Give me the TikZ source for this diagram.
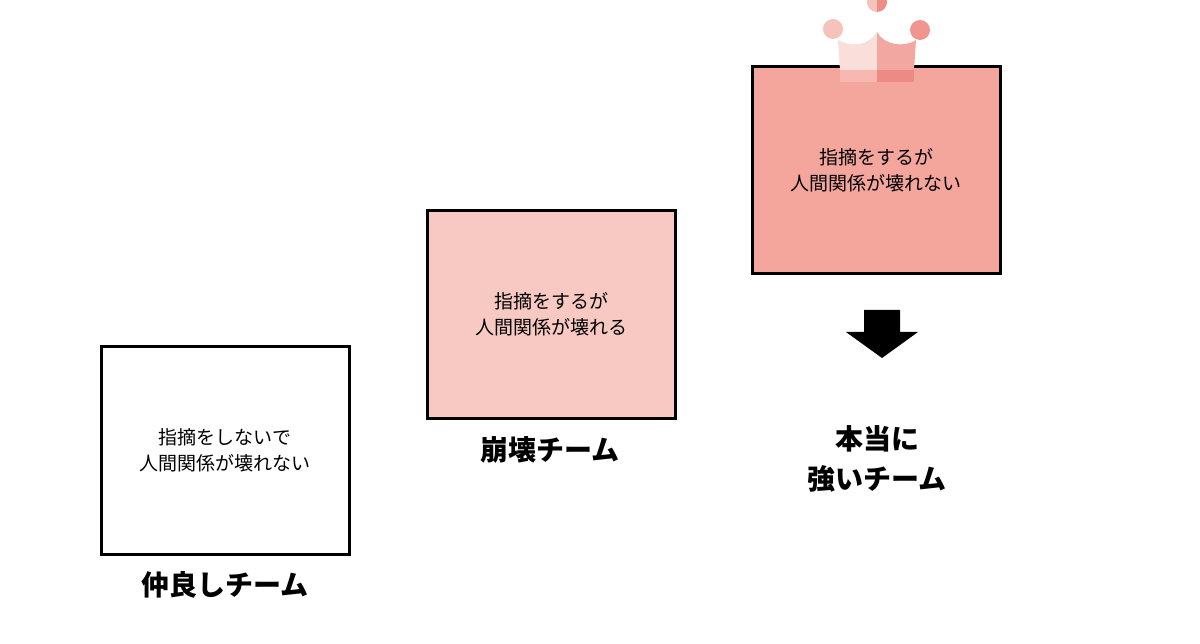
\documentclass[tikz,border=0pt]{standalone}
\usepackage{fontspec}
\setmainfont{Noto Sans CJK JP}
\begin{document}
\begin{tikzpicture}[x=1pt,y=-1pt,
 box/.style={draw=black,line width=3pt,minimum width=248pt,minimum height=207pt,inner sep=0pt,align=center,font=\fontsize{19}{26}\selectfont},
 lab/.style={align=center,font=\fontsize{28}{40}\selectfont\bfseries}]
\useasboundingbox (0,0) rectangle (1200,644);
\definecolor{pk2}{HTML}{F8C9C2}
\definecolor{pk3}{HTML}{F4A59C}
\node[box,fill=white] (b1) at (225,450.5) {指摘をしないで\\人間関係が壊れない};
\node[box,fill=pk2] (b2) at (551,314.5) {指摘をするが\\人間関係が壊れる};
\node[box,fill=pk3] (b3) at (876,170.5) {指摘をするが\\人間関係が壊れない};
\node[lab] (l1) at (225,585) {仲良しチーム};
\node[lab] (l2) at (550,450) {崩壊チーム};
\node[lab] (l3) at (877,459) {本当に\\強いチーム};
\fill[black] (864,310) -- (900,310) -- (900,332) -- (918,332) -- (882,358) -- (846,332) -- (864,332) -- cycle;
% crown
\fill[color={rgb,255:red,246;green,194;blue,188}] (833,29) circle (10);
\fill[color={rgb,255:red,240;green,150;blue,143}] (920,30) circle (10);
\fill[color={rgb,255:red,246;green,194;blue,188}] (877,22) ++(0,-10) arc (90:270:10) -- cycle;
\fill[color={rgb,255:red,238;green,140;blue,134}] (877,22) ++(0,-10) arc (90:-90:10) -- cycle;
\fill[color={rgb,255:red,250;green,222;blue,218}] (838,40) .. controls (850,48) and (870,45) .. (877,32) -- (877,70) -- (840,70) -- cycle;
\fill[color={rgb,255:red,242;green,168;blue,160}] (877,32) .. controls (884,45) and (904,48) .. (916,40) -- (914,70) -- (877,70) -- cycle;
\fill[color={rgb,255:red,246;green,184;blue,176}] (840,70) rectangle (877,82);
\fill[color={rgb,255:red,238;green,138;blue,133}] (877,70) rectangle (914,82);
\end{tikzpicture}
\end{document}
